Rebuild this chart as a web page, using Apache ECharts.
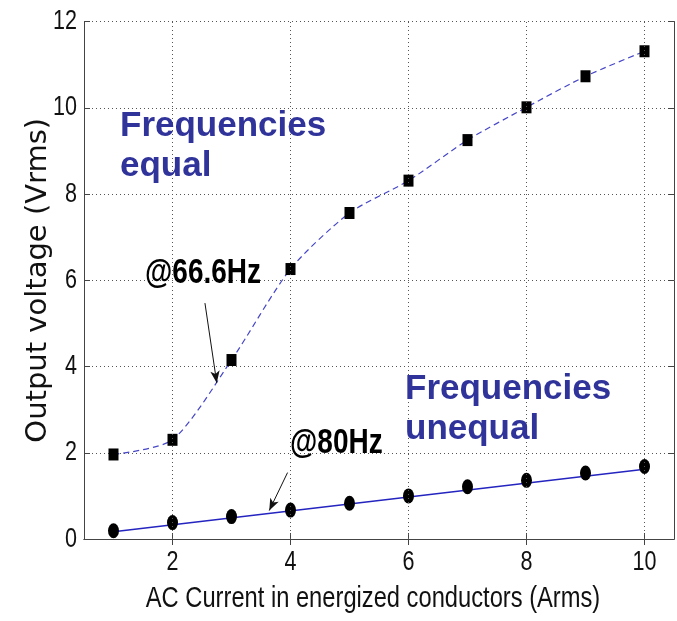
<!DOCTYPE html>
<html>
<head>
<meta charset="utf-8">
<script src="https://cdn.jsdelivr.net/npm/echarts@6/dist/echarts.min.js"></script>
<style>html,body{margin:0;padding:0;background:#fff}#c{width:677px;height:621px}</style>
</head>
<body>
<div id="c"></div>
<script>
const xTicks = [2, 4, 6, 8, 10];
const yTicks = [0, 2, 4, 6, 8, 10, 12];
const currentA = [1, 2, 3, 4, 5, 6, 7, 8, 9, 10];
const voltEqual = [1.96, 2.30, 4.15, 6.26, 7.56, 8.31, 9.25, 10.01, 10.73, 11.31];
const voltUnequal = [0.19, 0.38, 0.52, 0.67, 0.83, 1.00, 1.21, 1.36, 1.53, 1.68];
const fitX = [1, 10];
const fitY = [0.17, 1.62];
const arrow66 = [[2.55, 5.47], [2.75, 3.62]];
const arrow80 = [[3.95, 1.54], [3.64, 0.66]];

const SANS = '"Liberation Sans", Arial, sans-serif';
const BLUE_TXT = '#30349a';
const NARROW_X = 0.77;

const chart = echarts.init(document.getElementById('c'), null, {renderer: 'canvas'});
const pairs = (xs, ys) => xs.map((x, i) => [x, ys[i]]);
const axisLine = {show: true, lineStyle: {color: '#444', width: 1}};

chart.setOption({
  animation: false,
  backgroundColor: '#fff',
  grid: {left: 84, right: 3, top: 21.5, bottom: 82, containLabel: false},
  xAxis: [{
    type: 'value', min: 0.5, max: 10.5, position: 'bottom',
    axisLine: axisLine,
    axisTick: {inside: true, length: 6, customValues: xTicks, lineStyle: {color: '#444'}},
    axisLabel: {show: false},
    splitLine: {show: false}
  }, {
    type: 'value', min: 0.5, max: 10.5, position: 'top',
    axisLine: axisLine,
    axisTick: {inside: true, length: 6, customValues: xTicks, lineStyle: {color: '#444'}},
    axisLabel: {show: false},
    splitLine: {show: false}
  }],
  yAxis: [{
    type: 'value', min: 0, max: 12, interval: 2, position: 'left',
    axisLine: axisLine,
    axisTick: {inside: true, length: 6, lineStyle: {color: '#444'}},
    axisLabel: {show: false},
    splitLine: {show: true, lineStyle: {color: '#555', width: 1, type: [1, 3]}},
    name: 'Output voltage (Vrms)', nameLocation: 'middle', nameGap: 31,
    nameTextStyle: {fontFamily: '"DejaVu Sans", sans-serif', fontSize: 29, color: '#111'}
  }, {
    type: 'value', min: 0, max: 12, interval: 2, position: 'right',
    axisLine: axisLine,
    axisTick: {inside: true, length: 6, lineStyle: {color: '#444'}},
    axisLabel: {show: false},
    splitLine: {show: false}
  }],
  series: [
    {
      name: 'xgrid', type: 'line', data: [], silent: true, z: 1,
      markLine: {
        silent: true, symbol: ['none', 'none'], label: {show: false},
        lineStyle: {color: '#555', width: 1, type: [1, 3]},
        data: xTicks.map(v => ({xAxis: v}))
      }
    },
    {
      name: 'equal', type: 'line', data: pairs(currentA, voltEqual), smooth: 0.25,
      symbol: 'rect', symbolSize: [10, 12], z: 3,
      lineStyle: {color: '#4646c8', width: 1.2, type: [6, 4]},
      itemStyle: {color: '#000', opacity: 1}
    },
    {
      name: 'fit', type: 'line', data: pairs(fitX, fitY), symbol: 'none', z: 3,
      lineStyle: {color: '#2424c0', width: 1.5}
    },
    {
      name: 'unequal', type: 'scatter', data: pairs(currentA, voltUnequal), z: 4,
      symbol: 'path://M0,-1 A1,1 0 1,1 0,1 A1,1 0 1,1 0,-1 Z', symbolSize: [11, 15],
      itemStyle: {color: '#000', opacity: 1}
    },
    {
      name: 'arrows', type: 'line', data: [], silent: true, z: 5,
      markLine: {
        silent: true, symbol: ['none', 'arrow'], symbolSize: [7, 12], label: {show: false},
        lineStyle: {color: '#111', width: 1, type: 'solid'},
        data: [
          [{coord: arrow66[0]}, {coord: arrow66[1]}],
          [{coord: arrow80[0]}, {coord: arrow80[1]}]
        ]
      }
    }
  ]
});

// Tick labels placed through the chart's own scales, drawn narrow like the original
const labels = [];
xTicks.forEach(v => {
  const px = chart.convertToPixel({xAxisIndex: 0}, v);
  const py = chart.convertToPixel({yAxisIndex: 0}, 0);
  labels.push({type: 'text', x: px, y: py + 9, scaleX: NARROW_X, z: 10,
    style: {text: String(v), x: 0, y: 0, align: 'center', verticalAlign: 'top',
      fill: '#111', font: '28px ' + SANS}});
});
yTicks.forEach(v => {
  const px = chart.convertToPixel({xAxisIndex: 0}, 0.5);
  const py = chart.convertToPixel({yAxisIndex: 0}, v);
  labels.push({type: 'text', x: px - 7, y: py, scaleX: NARROW_X, z: 10,
    style: {text: String(v), x: 0, y: 0, align: 'right', verticalAlign: 'middle',
      fill: '#111', font: '28px ' + SANS}});
});

chart.setOption({
  graphic: labels.concat([
    {type: 'text', x: 373, y: 584, scaleX: 0.79, z: 10,
      style: {text: 'AC Current in energized conductors (Arms)', x: 0, y: 0, align: 'center', verticalAlign: 'top',
        fill: '#111', font: '30px ' + SANS}},
    {type: 'text', left: 120, top: 106, z: 10,
      style: {text: 'Frequencies\nequal', fill: BLUE_TXT, font: 'bold 35px ' + SANS, lineHeight: 40}},
    {type: 'text', left: 405, top: 369, z: 10,
      style: {text: 'Frequencies\nunequal', fill: BLUE_TXT, font: 'bold 35px ' + SANS, lineHeight: 40}},
    {type: 'text', x: 145, y: 256, scaleX: 0.8, z: 10,
      style: {text: '@66.6Hz', x: 0, y: 0, align: 'left', verticalAlign: 'top', fill: '#000', font: 'bold 35px ' + SANS}},
    {type: 'text', x: 290, y: 426, scaleX: 0.8, z: 10,
      style: {text: '@80Hz', x: 0, y: 0, align: 'left', verticalAlign: 'top', fill: '#000', font: 'bold 35px ' + SANS}}
  ])
});
</script>
</body>
</html>
